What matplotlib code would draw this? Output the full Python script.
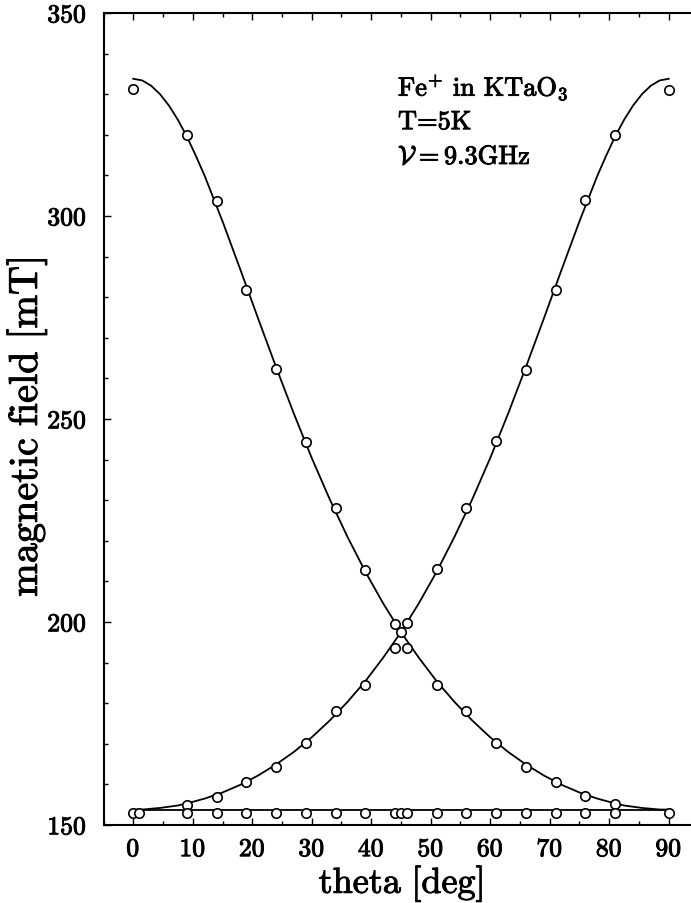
import matplotlib
matplotlib.use("Agg")
import matplotlib.pyplot as plt
import matplotlib.patheffects as pe
from matplotlib.ticker import MultipleLocator

plt.rcParams['font.family'] = ['cmr10', 'DejaVu Serif']
plt.rcParams['mathtext.fontset'] = 'cm'
plt.rcParams['axes.formatter.use_mathtext'] = True

# measured points, branch falling from ~331 mT
theta_down = [0, 9, 14, 19, 24, 29, 34, 39, 44, 45, 46, 51, 56, 61, 66, 71, 76, 81]
field_down = [331.4, 320.0, 303.8, 281.7, 262.3, 244.4, 228.0, 212.9, 199.5, 197.6,
              193.6, 184.5, 178.1, 170.2, 164.3, 160.6, 157.1, 155.2]

# measured points, branch rising to ~331 mT
theta_up = [9, 14, 19, 24, 29, 34, 39, 44, 46, 51, 56, 61, 66, 71, 76, 81, 90]
field_up = [155.0, 157.0, 160.5, 164.2, 170.2, 178.0, 184.6, 193.6, 199.8, 213.0,
            228.0, 244.6, 262.0, 281.7, 304.0, 320.0, 331.0]

# measured points, angle independent line
theta_flat = [0, 1, 9, 14, 19, 24, 29, 34, 39, 44, 45, 46, 51, 56, 61, 66, 71, 76, 81, 90]
field_flat = [153.0] * len(theta_flat)

# fitted curves
theta_fit = [0, 1.5, 3, 4.5, 6, 7.5, 9, 10.5, 12, 15, 18, 21, 24, 27, 30, 33, 36, 39, 42, 45,
             48, 51, 54, 57, 60, 63, 66, 69, 72, 75, 78, 79.5, 81, 82.5, 84, 85.5, 87, 88.5, 90]
fit_down = [333.8, 333.4, 332.1, 330.0, 327.2, 323.7, 319.6, 314.9, 309.9, 298.7,
            286.8, 274.7, 262.8, 251.3, 240.4, 230.3, 221.0, 212.4, 204.6, 197.5,
            191.2, 185.4, 180.3, 175.7, 171.6, 168.0, 164.9, 162.2, 159.9, 158.0,
            156.5, 155.9, 155.3, 154.8, 154.5, 154.2, 154.0, 153.8, 153.8]
fit_up = [153.8, 153.8, 154.0, 154.2, 154.5, 154.8, 155.3, 155.9, 156.5, 158.0,
          159.9, 162.2, 164.9, 168.0, 171.6, 175.7, 180.3, 185.4, 191.2, 197.5,
          204.6, 212.4, 221.0, 230.3, 240.4, 251.3, 262.8, 274.7, 286.8, 298.7,
          309.9, 314.9, 319.6, 323.7, 327.2, 330.0, 332.1, 333.4, 333.8]
theta_line = [0, 90]
fit_flat = [153.8, 153.8]

fig = plt.figure(figsize=(6.91, 9.04), dpi=100)
ax = fig.add_axes([0.1498, 0.0863, 0.861, 0.8982])

lw = 1.3
ax.plot(theta_fit, fit_down, color='black', lw=lw)
ax.plot(theta_fit, fit_up, color='black', lw=lw)
ax.plot(theta_line, fit_flat, color='black', lw=lw)

mk = dict(ls='none', marker='o', ms=6.8, mfc='white', mec='black', mew=1.2, zorder=3)
ax.plot(theta_down, field_down, **mk)
ax.plot(theta_up, field_up, **mk)
ax.plot(theta_flat, field_flat, **mk)

ax.set_xlim(-5, 95)
ax.set_ylim(150, 350)
ax.set_xticks(range(0, 91, 10))
ax.set_yticks(range(150, 351, 50))
ax.xaxis.set_minor_locator(MultipleLocator(5))
ax.yaxis.set_minor_locator(MultipleLocator(10))
ax.tick_params(which='both', direction='in', top=True, right=False, width=1.0)
ax.tick_params(which='major', length=5, labelsize=18.5)
ax.tick_params(axis='x', which='major', pad=9)
ax.tick_params(axis='y', which='major', pad=12)
ax.tick_params(which='minor', length=3)
for s in ax.spines.values():
    s.set_linewidth(1.5)
ax.spines['right'].set_visible(False)  # cut off in the scan

thick = [pe.withStroke(linewidth=0.7, foreground='black')]
for lab in ax.get_xticklabels() + ax.get_yticklabels():
    lab.set_path_effects(thick)

ax.set_xlabel(r'$\mathrm{theta\ [deg]}$', fontsize=26, path_effects=thick)
ax.xaxis.set_label_coords(0.5, -0.049)
ax.set_ylabel(r'$\mathrm{magnetic\ field\ [mT]}$', fontsize=29, path_effects=thick)
ax.yaxis.set_label_coords(-0.0916, 0.49)

ax.text(44.5, 329.6, r'Fe$^{+}$ in KTaO$_{3}$', fontsize=19, va='baseline', path_effects=thick)
ax.text(44.5, 321.4, 'T=5K', fontsize=19, va='baseline', path_effects=thick)
ax.text(44.5, 312.8, r'$\mathcal{V}=$9.3GHz', fontsize=19, va='baseline', path_effects=thick)

fig.savefig('out.png', dpi=100)
